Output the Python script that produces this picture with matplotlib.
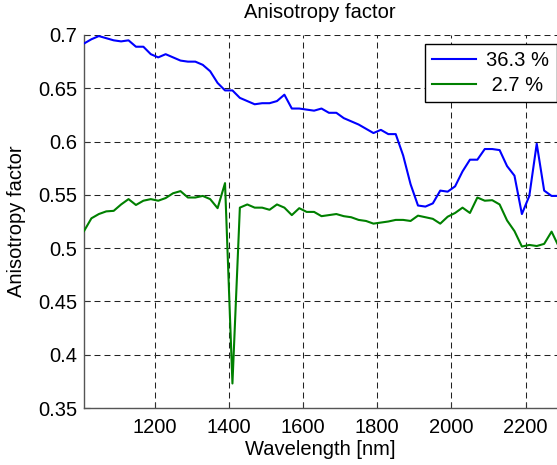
import numpy as np
import matplotlib
matplotlib.use("Agg")
import matplotlib.pyplot as plt

wavelength = list(range(1010, 2291, 20))

aniso_36 = [0.692, 0.696, 0.699, 0.697, 0.695, 0.694, 0.695, 0.689, 0.689, 0.682,
            0.679, 0.682, 0.679, 0.676, 0.675, 0.675, 0.672, 0.666, 0.655, 0.648,
            0.648, 0.641, 0.638, 0.635, 0.636, 0.636, 0.638, 0.644, 0.631, 0.631,
            0.630, 0.629, 0.631, 0.627, 0.627, 0.622, 0.619, 0.616, 0.612, 0.608,
            0.611, 0.607, 0.607, 0.587, 0.560, 0.540, 0.539, 0.542, 0.554, 0.553,
            0.558, 0.572, 0.583, 0.583, 0.593, 0.593, 0.592, 0.577, 0.568, 0.532,
            0.549, 0.598, 0.554, 0.549, 0.549]

aniso_27 = [0.516, 0.528, 0.532, 0.5345, 0.535, 0.541, 0.546, 0.5405, 0.5445, 0.546,
            0.5445, 0.547, 0.5515, 0.5535, 0.5475, 0.5475, 0.549, 0.546, 0.5375, 0.561,
            0.373, 0.538, 0.541, 0.538, 0.538, 0.536, 0.541, 0.538, 0.531, 0.5375,
            0.534, 0.534, 0.530, 0.531, 0.532, 0.530, 0.529, 0.5265, 0.5255, 0.523,
            0.524, 0.525, 0.5265, 0.5265, 0.5255, 0.5305, 0.529, 0.5275, 0.523, 0.5295,
            0.533, 0.538, 0.533, 0.5475, 0.5445, 0.545, 0.541, 0.526, 0.516, 0.5015,
            0.503, 0.502, 0.504, 0.5155, 0.501]

series_labels = ["36.3 %", " 2.7 %"]
x_ticks = [1200, 1400, 1600, 1800, 2000, 2200]
y_ticks = [0.35, 0.4, 0.45, 0.5, 0.55, 0.6, 0.65, 0.7]

plt.rcParams['font.family'] = ['Liberation Sans', 'DejaVu Sans']
plt.rcParams['lines.scale_dashes'] = False

W, H = 557, 465
fig = plt.figure(figsize=(W / 100, H / 100), dpi=100)
left, right, top, bottom = 84, 559, 35, 408
ax = fig.add_axes([left / W, 1 - bottom / H, (right - left) / W, (bottom - top) / H])

ax.plot(wavelength, aniso_36, color='#0000ff', lw=1.5, label=series_labels[0], zorder=3)
ax.plot(wavelength, aniso_27, color='#008000', lw=1.5, label=series_labels[1], zorder=3)

ax.set_xlim(1010, 2290)
ax.set_ylim(0.35, 0.7)
ax.set_xticks(x_ticks)
ax.set_yticks(y_ticks)
ax.set_yticklabels([f"{v:g}" for v in y_ticks])

ax.grid(True, color='#222222', lw=0.75, linestyle=(0, (4.3, 2.9)), zorder=1)
for s in ['top', 'right']:
    ax.spines[s].set_visible(False)
for s in ['left', 'bottom']:
    ax.spines[s].set_color('#555555')
    ax.spines[s].set_linewidth(1.0)

ax.tick_params(direction='in', length=4, width=0.8, labelsize=14.5, color='#333333', pad=5)
ax.tick_params(axis='x', pad=7)

fig.text(320 / W, 1 - 12 / H, 'Anisotropy factor', ha='center', va='center', fontsize=14.5)
fig.text(320 / W, 1 - 449 / H, 'Wavelength [nm]', ha='center', va='center', fontsize=14.5)
fig.text(17 / W, 1 - 221 / H, 'Anisotropy factor', ha='center', va='center', rotation=90, fontsize=14.5)

leg = ax.legend(loc='upper right', bbox_to_anchor=(556.5 / W, 1 - 44 / H),
                bbox_transform=fig.transFigure, borderaxespad=0, fontsize=14.5,
                fancybox=False, framealpha=1, edgecolor='black', handlelength=2.2,
                handletextpad=0.5, labelspacing=0.3, borderpad=0.35)
leg.get_frame().set_linewidth(1.0)

fig.savefig('out.png', dpi=100)
